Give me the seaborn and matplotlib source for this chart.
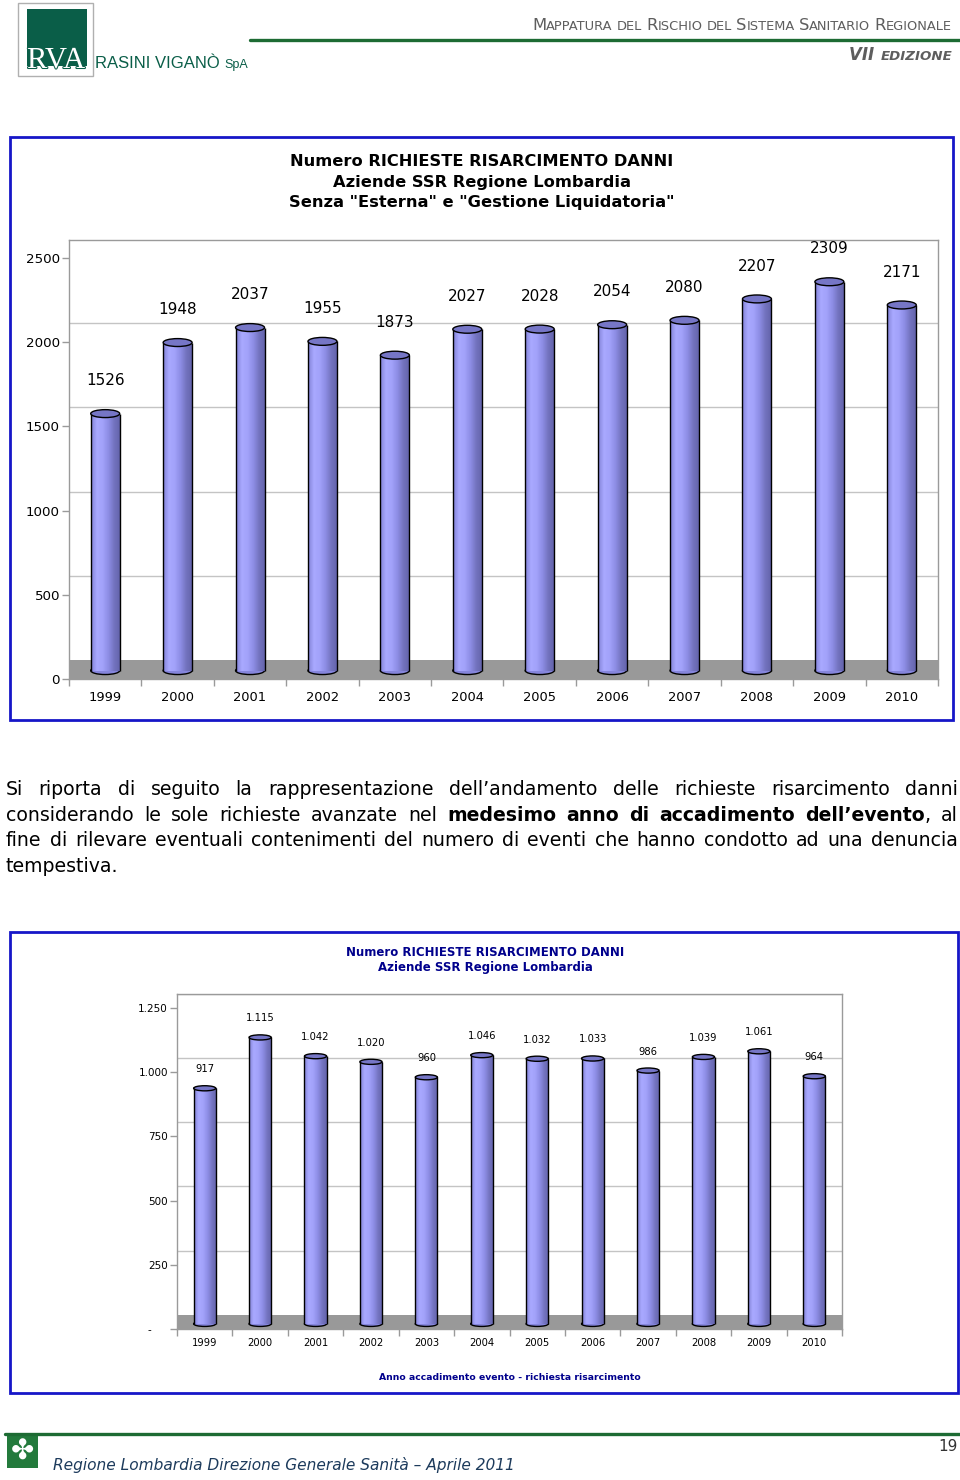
import numpy as np
import seaborn as sns
import matplotlib.pyplot as plt
import matplotlib.patheffects as pe
from matplotlib.patches import Rectangle, Ellipse
from matplotlib.lines import Line2D
from matplotlib.colors import LinearSegmentedColormap


# -------------------------------------------------
# DATA
# -------------------------------------------------

YEARS = ["1999", "2000", "2001", "2002", "2003", "2004",
         "2005", "2006", "2007", "2008", "2009", "2010"]

# chart 1 - all requests, without "Esterna" and "Gestione Liquidatoria"
REQUESTS_ALL = [1526, 1948, 2037, 1955, 1873, 2027, 2028, 2054, 2080, 2207, 2309, 2171]
TICKS_ALL = [0, 500, 1000, 1500, 2000, 2500]
TICKLABELS_ALL = ["0", "500", "1000", "1500", "2000", "2500"]
TITLE_ALL = ["Numero RICHIESTE RISARCIMENTO DANNI",
             "Aziende SSR Regione Lombardia",
             "Senza \"Esterna\" e \"Gestione Liquidatoria\""]

# chart 2 - requests filed in the same year of the event
REQUESTS_SAME = [917, 1115, 1042, 1020, 960, 1046, 1032, 1033, 986, 1039, 1061, 964]
TICKS_SAME = [0, 250, 500, 750, 1000, 1250]
TICKLABELS_SAME = ["-     ", "250", "500", "750", "1.000", "1.250"]
TITLE_SAME = ["Numero RICHIESTE RISARCIMENTO DANNI",
              "Aziende SSR Regione Lombardia"]
XLABEL_SAME = "Anno accadimento evento - richiesta risarcimento"

PARAGRAPH = [
    "Si riporta di seguito la rappresentazione dell’andamento delle richieste risarcimento danni",
    "considerando le sole richieste avanzate nel **medesimo anno di accadimento dell’evento**, al",
    "fine di rilevare eventuali contenimenti del numero di eventi che hanno condotto ad una denuncia",
    "tempestiva.",
]

HEADER_TITLE = "MAPPATURA DEL RISCHIO DEL SISTEMA SANITARIO REGIONALE"
FOOTER_TEXT = "Regione Lombardia Direzione Generale Sanità – Aprile 2011"
PAGE = "19"


# -------------------------------------------------
# STYLE
# -------------------------------------------------

sns.set_style("white")
plt.rcParams["font.family"] = ["DejaVu Sans"]
plt.rcParams["text.color"] = "black"

W, H = 960, 1480
BAR_COLOR = "#9a9af2"
BAR_SHADE = "#8585dc"
CAP_COLOR = "#7676c6"
FLOOR_COLOR = "#999999"
GRID_COLOR = "#c4c4c4"
SPINE = "#9a9a9a"
FRAME_BLUE = "#1616c8"
NAVY = "#00008c"
GREEN = "#0a5e48"
LINE_GREEN = "#1d6b33"
GREY_TEXT = "#5e5e5e"
PARA_FS = 13.6

CYL_CMAP = LinearSegmentedColormap.from_list(
    "cyl", ["#8282d6", "#a9a9ff", "#a2a2fa", "#8e8ee6", "#7474c0", "#6464ac"])
GRADIENT = np.linspace(0, 1, 64).reshape(1, -1)

fig = plt.figure(figsize=(W / 100, H / 100), dpi=100)
fig.patch.set_facecolor("white")
R = fig.canvas.get_renderer()


def fx(x):
    return x / W


def fy(y):
    return 1 - y / H


def rect(x0, y0, x1, y1):
    return [fx(x0), fy(y1), (x1 - x0) / W, (y1 - y0) / H]


def box(x0, y0, x1, y1, **kw):
    fig.add_artist(Rectangle((fx(x0), fy(y1)), (x1 - x0) / W, (y1 - y0) / H,
                             transform=fig.transFigure, **kw))


def hline(x0, x1, y, **kw):
    fig.add_artist(Line2D([fx(x0), fx(x1)], [fy(y), fy(y)],
                          transform=fig.transFigure, **kw))


def width(s, **kw):
    t = fig.text(0, 0, "|" + s + "|", **kw)
    a = t.get_window_extent(R).width
    t.remove()
    t = fig.text(0, 0, "||", **kw)
    b = t.get_window_extent(R).width
    t.remove()
    return a - b


def draw_runs(x, y, runs, ha="left"):
    # runs: list of (text, text kwargs), drawn one after the other on a baseline
    ws = [width(s, **kw) for s, kw in runs]
    x = x - sum(ws) if ha == "right" else x
    for (s, kw), w in zip(runs, ws):
        fig.text(fx(x), fy(y), s, va="baseline", **kw)
        x += w


def parse(line):
    chars = []
    for i, chunk in enumerate(line.split("**")):
        chars += [(c, i % 2 == 1) for c in chunk]
    words, cur = [], []
    for c, b in chars + [(" ", False)]:
        if c == " ":
            if cur:
                words.append(cur)
                cur = []
        else:
            cur.append((c, b))
    out = []
    for w in words:
        runs = []
        for c, b in w:
            if runs and runs[-1][1] == b:
                runs[-1][0] += c
            else:
                runs.append([c, b])
        out.append(runs)
    return out


# -------------------------------------------------
# CYLINDER BAR CHART
# -------------------------------------------------

def cylinder_chart(ax, values, ticks, ticklabels, value_labels, top, depth, lift,
                   cap, gap, fs_y, fs_x, fs_val, xpad):
    sns.barplot(x=YEARS, y=values, ax=ax, color=BAR_COLOR, saturation=1,
                width=0.4, linewidth=0, zorder=3)
    bars = list(ax.patches)
    ax.set_facecolor("white")

    # floor and back-wall grid of the 3d chart
    ax.axhspan(0, depth, color=FLOOR_COLOR, lw=0, zorder=1)
    for t in ticks[1:]:
        ax.axhline(t + depth, color=GRID_COLOR, lw=1, zorder=0.5)

    for bar, label in zip(bars, value_labels):
        x0, w, h = bar.get_x(), bar.get_width(), bar.get_height()
        bar.set_y(lift)
        y0, y1 = lift, lift + h
        im = ax.imshow(GRADIENT, extent=[x0, x0 + w, y0, y1], cmap=CYL_CMAP,
                       aspect="auto", zorder=3, origin="lower")
        im.set_clip_path(bar)
        ax.add_patch(Ellipse((x0 + w / 2, y0), w, cap, fc=BAR_SHADE, ec="black",
                             lw=1, zorder=2.8))
        ax.vlines([x0, x0 + w], y0, y1, color="black", lw=1, zorder=3.5)
        ax.add_patch(Ellipse((x0 + w / 2, y1), w, cap, fc=CAP_COLOR, ec="black",
                             lw=1, zorder=4))
        ax.text(x0 + w / 2, y1 + gap, label, ha="center", va="center",
                fontsize=fs_val, color="black", zorder=5)

    ax.set_xlim(-0.5, len(YEARS) - 0.5)
    ax.set_ylim(0, top)
    ax.set_yticks(ticks, ticklabels)
    ax.set_xticks(range(len(YEARS)), YEARS)
    ax.set_xticks(np.arange(len(YEARS) + 1) - 0.5, minor=True)
    ax.tick_params(axis="x", which="major", bottom=True, length=0, pad=xpad,
                   labelsize=fs_x, labelcolor="black")
    ax.tick_params(axis="x", which="minor", bottom=True, length=5, color=SPINE, width=1)
    ax.tick_params(axis="y", left=True, length=5, color=SPINE, width=1, pad=1.5,
                   labelsize=fs_y, labelcolor="black")
    ax.set_xlabel("")
    ax.set_ylabel("")
    for s in ax.spines.values():
        s.set_visible(True)
        s.set_color(SPINE)
        s.set_linewidth(1)


# -------------------------------------------------
# HEADER
# -------------------------------------------------

box(18, 3, 93, 76, fill=False, ec="#b0b0b0", lw=1)
box(27, 9, 87, 66, fc=GREEN, ec="none")
fig.text(fx(27), fy(68), "RVA", fontsize=22, family="Liberation Serif",
         color="white", va="baseline",
         path_effects=[pe.withStroke(linewidth=1.5, foreground=GREEN)])
draw_runs(95, 68, [("RASINI VIGANÒ ", dict(fontsize=12, family="Liberation Sans", color=GREEN)),
                   ("SpA", dict(fontsize=9, family="Liberation Sans", color=GREEN))])

big = dict(fontsize=11.8, color=GREY_TEXT)
small = dict(fontsize=9.4, color=GREY_TEXT)
runs = []
for i, word in enumerate(HEADER_TITLE.split(" ")):
    if i:
        runs.append((" ", small))
    if word == "DEL":
        runs.append((word, small))
    else:
        runs.append((word[0], big))
        runs.append((word[1:], small))
draw_runs(952, 30, runs, ha="right")
hline(250, 960, 40, color=LINE_GREEN, lw=2.4)
draw_runs(952, 60, [("VII ", dict(fontsize=12, weight="bold", style="italic", color=GREY_TEXT)),
                    ("EDIZIONE", dict(fontsize=9.6, weight="bold", style="italic", color=GREY_TEXT))],
          ha="right")


# -------------------------------------------------
# CHART 1
# -------------------------------------------------

box(10, 137, 953, 720, fill=False, ec=FRAME_BLUE, lw=2)
for line, y in zip(TITLE_ALL, [162, 182, 203]):
    fig.text(fx(482), fy(y), line, ha="center", va="center", fontsize=11.7,
             weight="bold")

ax1 = fig.add_axes(rect(69, 240, 938, 679))
cylinder_chart(ax1, REQUESTS_ALL, TICKS_ALL, TICKLABELS_ALL,
               [str(v) for v in REQUESTS_ALL],
               top=2607, depth=113, lift=50, cap=47, gap=195,
               fs_y=9.6, fs_x=9.4, fs_val=11, xpad=8.5)


# -------------------------------------------------
# PARAGRAPH (justified)
# -------------------------------------------------

styles = {True: dict(fontsize=PARA_FS, weight="bold"), False: dict(fontsize=PARA_FS)}
natural_space = width(" ", fontsize=PARA_FS)
for n, (line, y) in enumerate(zip(PARAGRAPH, [795, 821, 846, 872])):
    words = parse(line)
    ws = [sum(width(s, **styles[b]) for s, b in w) for w in words]
    space = natural_space
    if n < len(PARAGRAPH) - 1:
        space = (958 - 6 - sum(ws)) / (len(words) - 1)
    x = 6
    for w, ww in zip(words, ws):
        cx = x
        for s, b in w:
            fig.text(fx(cx), fy(y), s, va="baseline", **styles[b])
            cx += width(s, **styles[b])
        x += ww + space


# -------------------------------------------------
# CHART 2
# -------------------------------------------------

box(10, 932, 958, 1393, fill=False, ec=FRAME_BLUE, lw=2)
for line, y in zip(TITLE_SAME, [952, 967]):
    fig.text(fx(485), fy(y), line, ha="center", va="center", fontsize=8.45,
             weight="bold", color=NAVY)

ax2 = fig.add_axes(rect(177, 994, 842, 1329))
cylinder_chart(ax2, REQUESTS_SAME, TICKS_SAME, TICKLABELS_SAME,
               [f"{v:,}".replace(",", ".") for v in REQUESTS_SAME],
               top=1304, depth=55, lift=20, cap=20, gap=74,
               fs_y=7.5, fs_x=7.2, fs_val=7.2, xpad=6.5)
fig.text(fx(510), fy(1377), XLABEL_SAME, ha="center", va="center", fontsize=6.7,
         weight="bold", color=NAVY)


# -------------------------------------------------
# FOOTER
# -------------------------------------------------

hline(5, 960, 1434, color=LINE_GREEN, lw=2.4)
box(7, 1436, 38, 1468, fc="#237a3c", ec="none")
fig.text(fx(22.5), fy(1452), "✤", ha="center", va="center", fontsize=20, color="white")
fig.text(fx(53), fy(1470), FOOTER_TEXT, va="baseline", fontsize=11.1, style="italic",
         color="#1d3b5c")
fig.text(fx(958), fy(1451), PAGE, ha="right", va="baseline", fontsize=11, color="#333333")

fig.savefig("out.png", dpi=100)
